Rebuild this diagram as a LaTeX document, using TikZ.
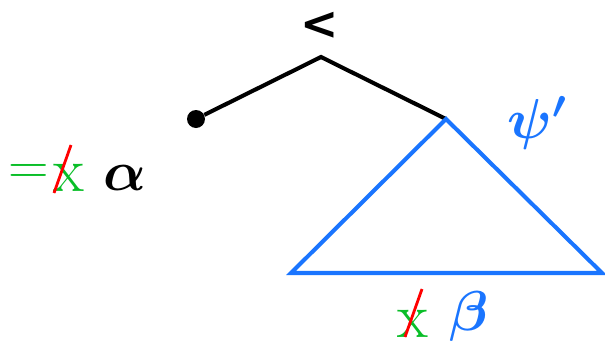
\RequirePackage{fix-cm}
\documentclass[tikz,border=0pt]{standalone}
\usepackage{amsmath,amssymb,bm}
\usepackage{fontspec}
\newfontfamily\opfont{DejaVu Sans}
\usepackage{tikz}
\usetikzlibrary{calc}

\definecolor{treeblue}{RGB}{26,117,255}
\definecolor{markgreen}{RGB}{10,190,40}

\begin{document}
\begin{tikzpicture}[
  x=0.02cm, y=-0.02cm,
  big/.style={inner sep=0pt, font=\fontsize{36}{40}\selectfont},
  huge/.style={inner sep=0pt, font=\fontsize{32}{38}\selectfont},
  edge/.style={line width=2.3pt},
  leaf/.style={circle, fill=black, inner sep=0pt, minimum size=0.36cm},
  sub/.style={treeblue, line width=2.3pt, line join=miter},
  greenlbl/.style={big, markgreen},
  cross/.style={red, line width=1.6pt},
]
  \useasboundingbox (0,0) rectangle (605,349);
  % Tree
  \node[inner sep=0pt, font=\fontsize{26}{30}\selectfont\opfont\bfseries]
    (op) at (320,26) {<};
  \coordinate (apex) at (321,57);
  \node[leaf] (lf) at (196,119) {};
  \coordinate (top) at (446,119);
  \coordinate (bl) at (291,273);
  \coordinate (br) at (602,273);
  \draw[edge] (lf) -- (apex) -- (top);
  \draw[sub] (top) -- (bl) -- (br) -- cycle;
  \node[huge, treeblue] (psi) at (537,123) {$\bm{\psi'}$};
  % Left label
  \node[greenlbl, font=\fontsize{32}{36}\selectfont] (eq) at (29,174) {$=$};
  \node[greenlbl] (xa) at (69,178) {x};
  \node[huge] (alpha) at (125,178) {$\bm{\alpha}$};
  \draw[cross] ($(xa.center)+(2,-33)$) -- ($(xa.center)+(-15,15)$);
  % Bottom label
  \node[greenlbl] (xb) at (413,324) {x};
  \node[huge, treeblue] (beta) at (469,316) {$\bm{\beta}$};
  \draw[cross] ($(xb.center)+(9,-35)$) -- ($(xb.center)+(-8,13)$);
\end{tikzpicture}
\end{document}
